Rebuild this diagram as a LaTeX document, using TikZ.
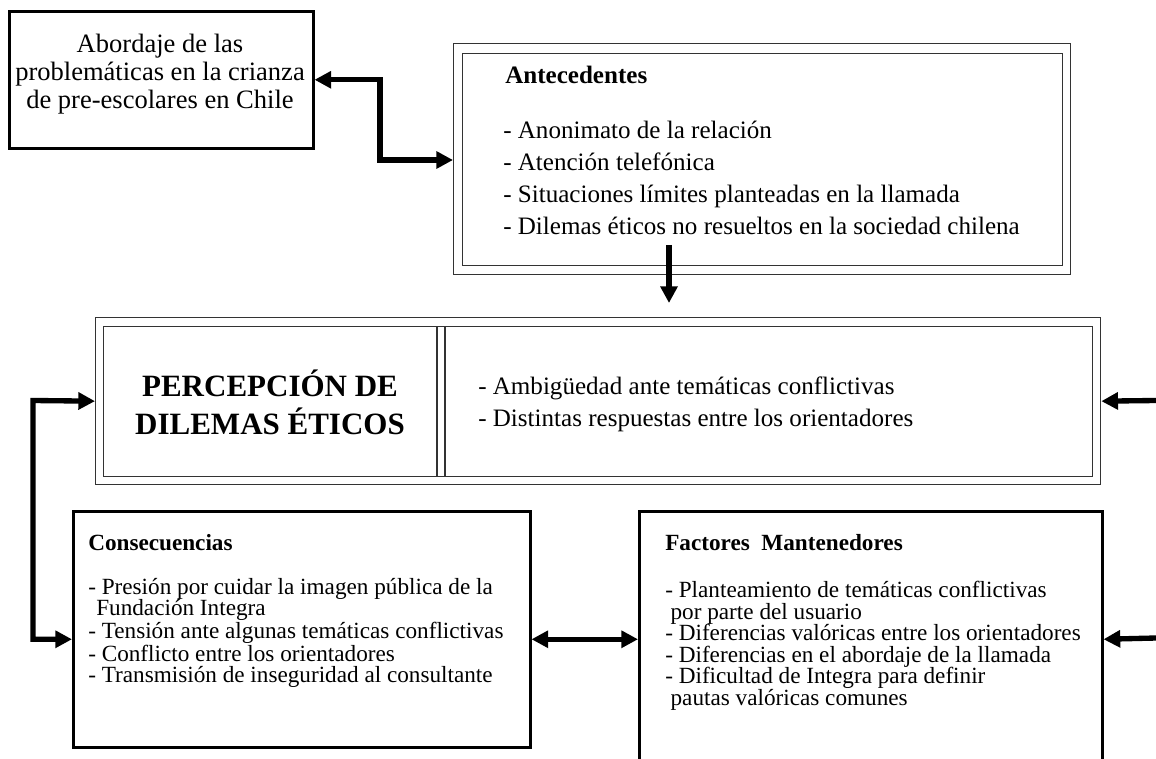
\documentclass[tikz,border=0pt]{standalone}
\usepackage{fontspec}
\setmainfont{Liberation Serif}
\usetikzlibrary{arrows.meta,calc}
\newlength\pxu
\setlength\pxu{0.75pt}
\begin{document}
\begin{tikzpicture}[x=0.75pt,y=-0.75pt,
  solidbox/.style={draw=black, line width=1.9pt, inner sep=0pt, anchor=north west},
  thinbox/.style={draw=black!80, line width=1pt, inner sep=0pt, anchor=north west},
  thinline/.style={draw=black!80, line width=1pt},
  conn/.style={line width=4pt, -{Triangle[length=12.5pt,width=12.5pt]}},
  biconn/.style={line width=4pt, {Triangle[length=12.5pt,width=12.5pt]}-{Triangle[length=12.5pt,width=12.5pt]}},
  txt/.style={inner sep=0pt, align=left, anchor=base west},
]
\clip (0,0) rectangle (1156,759);
\fill[white] (0,0) rectangle (1156,759);

% boxes
\node[solidbox, minimum width=304\pxu, minimum height=137\pxu] (ab) at (8,10) {};
\node[thinbox, minimum width=617\pxu, minimum height=231\pxu] (anteO) at (453,43) {};
\node[thinbox, minimum width=600\pxu, minimum height=212\pxu] (anteI) at (462,53) {};
\node[thinbox, minimum width=1005\pxu, minimum height=167\pxu] (midO) at (95,317) {};
\node[thinbox, minimum width=989\pxu, minimum height=150\pxu] (midI) at (103,326) {};
\draw[thinline] ($(midI.north west)+(334,0)$) -- ($(midI.south west)+(334,0)$);
\draw[thinline] ($(midI.north west)+(342,0)$) -- ($(midI.south west)+(342,0)$);
\node[solidbox, minimum width=457\pxu, minimum height=236\pxu] (cons) at (72,510) {};
\node[solidbox, minimum width=463\pxu, minimum height=256\pxu] (fact) at (638,510) {};

% texts (base west anchors sit on the LAST line's baseline)
\node[inner sep=0pt, align=center, font=\fontsize{19.9pt}{21pt}\selectfont] (abt) at (160,74)
  {Abordaje de las\\problemáticas en la crianza\\de pre-escolares en Chile};

\node[txt, font=\fontsize{18.8pt}{24pt}\selectfont\bfseries] (anteh) at (505,84) {Antecedentes};
\node[txt, font=\fontsize{18.8pt}{24pt}\selectfont] (antet) at (503,234.5)
  {- Anonimato de la relación\\- Atención telefónica\\- Situaciones límites planteadas en la llamada\\- Dilemas éticos no resueltos en la sociedad chilena};

\node[inner sep=0pt, align=center, font=\fontsize{23.25pt}{28.5pt}\selectfont\bfseries] (pert) at (270,402)
  {PERCEPCIÓN DE\\DILEMAS ÉTICOS};
\node[txt, font=\fontsize{18.8pt}{24pt}\selectfont] (midt) at (478,426)
  {- Ambigüedad ante temáticas conflictivas\\- Distintas respuestas entre los orientadores};

\node[txt, font=\fontsize{17.4pt}{18pt}\selectfont\bfseries] (consh) at (88,550) {Consecuencias};
\node[txt, font=\fontsize{17.4pt}{16pt}\selectfont] (const) at (88,682.5)
  {- Presión por cuidar la imagen pública de la\\\hspace*{6pt}Fundación Integra\\- Tensión ante algunas temáticas conflictivas\\- Conflicto entre los orientadores\\- Transmisión de inseguridad al consultante};

\node[txt, font=\fontsize{17.4pt}{18pt}\selectfont\bfseries] (facth) at (665,550) {Factores\ \ Mantenedores};
\node[txt, font=\fontsize{17.4pt}{16.1pt}\selectfont] (factt) at (665,705)
  {- Planteamiento de temáticas conflictivas\\\hspace*{4pt}por parte del usuario\\- Diferencias valóricas entre los orientadores\\- Diferencias en el abordaje de la llamada\\- Dificultad de Integra para definir\\\hspace*{4pt}pautas valóricas comunes};

% connectors
\coordinate (e1) at (380,160);
\draw[biconn] (ab.east) -| (e1) -- (e1 -| anteO.west);
\coordinate (d0) at (669,245);
\draw[conn, shorten >=10.5pt] (d0) -- (d0 |- midO.north);
\coordinate (r1) at (1156,400.5);
\draw[conn] (r1) -- (midO.east);
\coordinate (l1) at (33,400.5);
\draw[biconn] (midO.west) -- (l1) |- ($(cons.west)+(0,10)$);
\draw[biconn] ($(cons.east)+(0,10)$) -- (fact.west);
\coordinate (r2) at (1156,638);
\draw[conn] (r2) -- (fact.east);
\end{tikzpicture}
\end{document}
